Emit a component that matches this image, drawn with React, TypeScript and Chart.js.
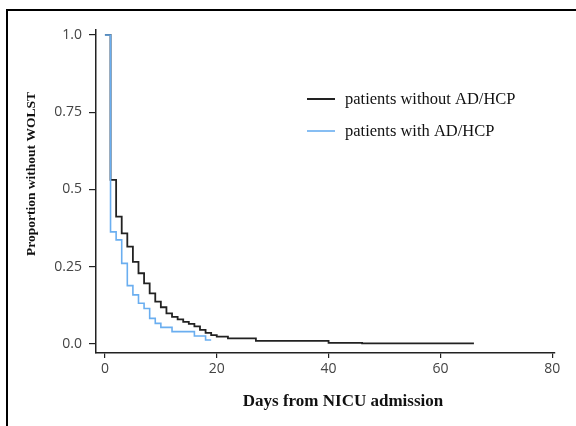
import React, { useEffect, useRef } from "react";
import { Chart, registerables } from "chart.js";

Chart.register(...registerables);

// Kaplan-Meier steps (day, proportion after that day)
const withoutDays = [0, 1, 2, 3, 4, 5, 6, 7, 8, 9, 10, 11, 12, 13, 14, 15, 16, 17, 18, 19, 20, 22, 27, 40, 46, 66];
const withoutVals = [1.0, 0.531, 0.412, 0.358, 0.315, 0.266, 0.229, 0.196, 0.164, 0.137, 0.119, 0.099, 0.088, 0.080, 0.072, 0.065, 0.057, 0.046, 0.036, 0.029, 0.024, 0.018, 0.010, 0.004, 0.002, 0.002];

const withDays = [0, 1, 2, 3, 4, 5, 6, 7, 8, 9, 10, 12, 16, 18, 19];
const withVals = [1.0, 0.363, 0.337, 0.261, 0.189, 0.159, 0.132, 0.115, 0.083, 0.067, 0.054, 0.040, 0.026, 0.013, 0.013];

const seriesLabels = ["patients without AD/HCP", "patients with AD/HCP"];
const seriesColors = ["#222222", "#6aaef0"];

const xTicks = [0, 20, 40, 60, 80];
const yTicks = [0, 0.25, 0.5, 0.75, 1.0];
const yTickLabels = ["0.0", "0.25", "0.5", "0.75", "1.0"];

const xTitle = "Days from NICU admission";
const yTitle = "Proportion without WOLST";

export default function App() {
  const ref = useRef<HTMLCanvasElement | null>(null);

  useEffect(() => {
    if (!ref.current) return;

    const overlay = {
      id: "overlay",
      afterDraw(chart: any) {
        const ctx = chart.ctx;
        ctx.save();
        // legend
        const items = chart.data.datasets;
        const ly = [99, 131];
        items.forEach((ds: any, i: number) => {
          ctx.strokeStyle = ds.borderColor;
          ctx.lineWidth = i === 0 ? 2 : 1.6;
          ctx.beginPath();
          ctx.moveTo(307, ly[i]);
          ctx.lineTo(335, ly[i]);
          ctx.stroke();
          ctx.fillStyle = "#111";
          ctx.font = "16.5px 'Liberation Serif', 'Times New Roman', serif";
          ctx.textAlign = "left";
          ctx.textBaseline = "middle";
          ctx.fillText(ds.label, 345, ly[i] + 1);
        });
        // axis titles
        ctx.fillStyle = "#111";
        ctx.font = "bold 17px 'Liberation Serif', 'Times New Roman', serif";
        ctx.textAlign = "center";
        ctx.textBaseline = "middle";
        ctx.fillText(xTitle, 343, 402);
        ctx.translate(32, 174);
        ctx.rotate(-Math.PI / 2);
        ctx.font = "bold 13.5px 'Liberation Serif', 'Times New Roman', serif";
        ctx.fillText(yTitle, 0, 0);
        ctx.restore();
      },
    };

    const chart = new Chart(ref.current, {
      type: "line",
      data: {
        datasets: [
          {
            label: seriesLabels[0],
            data: withoutDays.map((d, i) => ({ x: d, y: withoutVals[i] })),
            borderColor: seriesColors[0],
            borderWidth: 1.8,
            stepped: true,
            pointRadius: 0,
            fill: false,
            order: 1,
          },
          {
            label: seriesLabels[1],
            data: withDays.map((d, i) => ({ x: d, y: withVals[i] })),
            borderColor: seriesColors[1],
            borderWidth: 1.6,
            stepped: true,
            pointRadius: 0,
            fill: false,
            order: 0,
          },
        ],
      },
      options: {
        responsive: false,
        animation: false,
        layout: { padding: { top: 30, right: 21, left: 0, bottom: 0 } },
        plugins: { legend: { display: false }, tooltip: { enabled: false } },
        scales: {
          x: {
            type: "linear",
            min: -1.6,
            max: 80.5,
            afterBuildTicks: (s: any) => {
              s.ticks = xTicks.map((v) => ({ value: v }));
            },
            afterFit: (s: any) => {
              s.height = 73;
            },
            grid: { drawOnChartArea: false, drawTicks: true, tickLength: 5, tickColor: "#222", lineWidth: 1.2 },
            border: { display: true, color: "#222", width: 1.5 },
            ticks: {
              color: "#444",
              padding: 3,
              maxRotation: 0,
              font: { family: "'Open Sans', sans-serif", size: 14 },
              callback: (v: any) => String(v),
            },
          },
          y: {
            type: "linear",
            min: -0.029,
            max: 1.016,
            afterBuildTicks: (s: any) => {
              s.ticks = yTicks.map((v) => ({ value: v }));
            },
            afterFit: (s: any) => {
              s.width = 96;
            },
            grid: { drawOnChartArea: false, drawTicks: true, tickLength: 7, tickColor: "#222", lineWidth: 1.2 },
            border: { display: true, color: "#222", width: 1.5 },
            ticks: {
              color: "#444",
              padding: 7,
              font: { family: "'Open Sans', sans-serif", size: 14 },
              callback: (v: any) => {
                const i = yTicks.indexOf(Number(v));
                return i >= 0 ? yTickLabels[i] : "";
              },
            },
          },
        },
      },
      plugins: [overlay],
    });

    return () => chart.destroy();
  }, []);

  return (
    <div style={{ position: "absolute", left: 0, top: 0, width: 576, height: 426, background: "#fff" }}>
      <canvas ref={ref} width={576} height={426} style={{ position: "absolute", left: 0, top: 0 }} />
      <div
        style={{
          position: "absolute",
          left: 6,
          top: 9,
          width: 570,
          height: 417,
          borderTop: "2px solid #000",
          borderLeft: "2px solid #000",
          boxSizing: "border-box",
        }}
      />
    </div>
  );
}
